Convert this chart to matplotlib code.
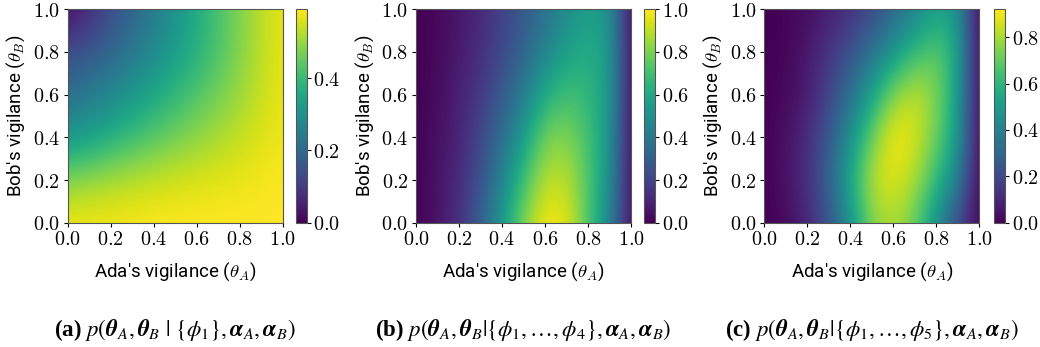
import numpy as np
import matplotlib.pyplot as plt
from matplotlib.ticker import FormatStrFormatter, MultipleLocator

plt.rcParams['mathtext.fontset'] = 'cm'
plt.rcParams['font.family'] = ['Roboto', 'DejaVu Sans']

# grid nodes (theta_A across, theta_B up)
theta_a_coarse = [0.0, 0.2, 0.4, 0.6, 0.8, 1.0]
theta_a_fine = [0.0, 0.1, 0.2, 0.3, 0.4, 0.5, 0.6, 0.7, 0.8, 0.9, 1.0]
theta_b = [0.0, 0.2, 0.4, 0.6, 0.8, 1.0]

# (a) posterior after phi_1, rows = theta_B
post_a = [
    [0.58, 0.58, 0.59, 0.59, 0.59, 0.59],
    [0.48, 0.52, 0.54, 0.56, 0.57, 0.59],
    [0.30, 0.37, 0.44, 0.49, 0.54, 0.58],
    [0.21, 0.27, 0.35, 0.43, 0.50, 0.58],
    [0.13, 0.19, 0.28, 0.37, 0.48, 0.58],
    [0.00, 0.14, 0.24, 0.36, 0.48, 0.58],
]

# (b) posterior after phi_1..phi_4
post_b = [
    [0.00, 0.05, 0.14, 0.30, 0.55, 0.82, 1.00, 0.97, 0.72, 0.45, 0.00],
    [0.00, 0.05, 0.12, 0.25, 0.45, 0.70, 0.90, 0.90, 0.73, 0.50, 0.00],
    [0.00, 0.04, 0.10, 0.21, 0.36, 0.56, 0.80, 0.82, 0.70, 0.53, 0.00],
    [0.00, 0.03, 0.09, 0.17, 0.28, 0.42, 0.62, 0.70, 0.66, 0.55, 0.00],
    [0.00, 0.02, 0.07, 0.13, 0.22, 0.32, 0.45, 0.57, 0.62, 0.56, 0.00],
    [0.00, 0.02, 0.06, 0.12, 0.19, 0.28, 0.37, 0.48, 0.56, 0.52, 0.00],
]

# (c) posterior after phi_1..phi_5
post_c = [
    [0.00, 0.02, 0.09, 0.23, 0.46, 0.74, 0.81, 0.71, 0.46, 0.20, 0.00],
    [0.00, 0.04, 0.13, 0.28, 0.55, 0.83, 0.88, 0.81, 0.63, 0.41, 0.00],
    [0.00, 0.04, 0.11, 0.25, 0.46, 0.71, 0.92, 0.87, 0.72, 0.52, 0.00],
    [0.00, 0.02, 0.07, 0.18, 0.33, 0.53, 0.75, 0.85, 0.75, 0.53, 0.00],
    [0.00, 0.01, 0.06, 0.14, 0.23, 0.34, 0.48, 0.62, 0.70, 0.57, 0.00],
    [0.00, 0.01, 0.03, 0.07, 0.12, 0.20, 0.29, 0.40, 0.51, 0.49, 0.00],
]

captions = [
    r'$p(\boldsymbol{\theta}_A,\boldsymbol{\theta}_B\ |\ \{\phi_1\},\boldsymbol{\alpha}_A,\boldsymbol{\alpha}_B)$',
    r'$p(\boldsymbol{\theta}_A,\boldsymbol{\theta}_B|\{\phi_1,\ldots,\phi_4\},\boldsymbol{\alpha}_A,\boldsymbol{\alpha}_B)$',
    r'$p(\boldsymbol{\theta}_A,\boldsymbol{\theta}_B|\{\phi_1,\ldots,\phi_5\},\boldsymbol{\alpha}_A,\boldsymbol{\alpha}_B)$',
]
letters = ['(a)', '(b)', '(c)']
ticks = [0.0, 0.2, 0.4, 0.6, 0.8, 1.0]

panels = [
    (theta_a_coarse, post_a),
    (theta_a_fine, post_b),
    (theta_a_fine, post_c),
]
ax_left = [67.7, 416.0, 764.3]
cb_left = [296.0, 644.3, 994.3]

W, H = 1040, 347
fig = plt.figure(figsize=(W / 100, H / 100), dpi=100)
tick_fmt = FormatStrFormatter(r'$%.1f$')

for i, (xa, grid) in enumerate(panels):
    z = np.array(grid)
    dx = xa[1] - xa[0]
    dy = theta_b[1] - theta_b[0]
    ax = fig.add_axes([ax_left[i] / W, 1 - 222.7 / H, 215 / W, 213.4 / H])
    im = ax.imshow(z, origin='lower', cmap='viridis', aspect='auto',
                   interpolation='bicubic', interpolation_stage='data',
                   extent=[xa[0] - dx / 2, xa[-1] + dx / 2,
                           theta_b[0] - dy / 2, theta_b[-1] + dy / 2])
    ax.set_xlim(0, 1)
    ax.set_ylim(0, 1)
    ax.set_xticks(ticks)
    ax.set_yticks(ticks)
    ax.xaxis.set_major_formatter(tick_fmt)
    ax.yaxis.set_major_formatter(tick_fmt)
    ax.tick_params(labelsize=14.5, length=3, pad=2.5)
    for s in ax.spines.values():
        s.set_color('#555555')
    ax.set_xlabel(r"Ada's vigilance ($\theta_A$)", fontsize=13.5, labelpad=8)
    ax.set_ylabel(r"Bob's vigilance ($\theta_B$)", fontsize=13.5, labelpad=4)

    cax = fig.add_axes([cb_left[i] / W, 1 - 222.7 / H, 10.5 / W, 213.4 / H])
    cb = fig.colorbar(im, cax=cax)
    cb.ax.yaxis.set_major_locator(MultipleLocator(0.2))
    cb.ax.yaxis.set_major_formatter(tick_fmt)
    cb.ax.tick_params(labelsize=14.5, length=3, pad=2)
    cb.outline.set_edgecolor('#555555')

    cx = (ax_left[i] + 107.5) / W
    fig.text(cx, 1 - 330 / H, letters[i] + ' ' + captions[i], ha='center', va='center',
             fontsize=16.5, fontfamily='Liberation Serif', fontweight='bold',
             math_fontfamily='stix')

fig.savefig('out.png', dpi=100)
